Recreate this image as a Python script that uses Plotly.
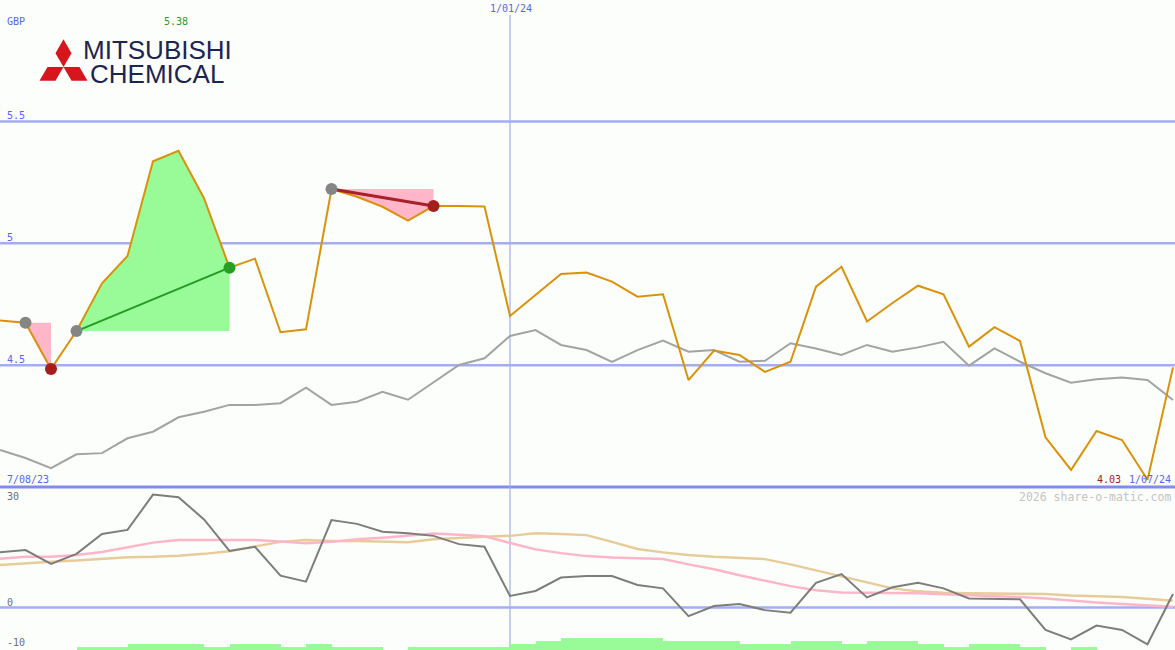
import math
import plotly.graph_objects as go

# ---------------- data ----------------
price = [4.683, 4.674, 4.484, 4.640, 4.836, 4.948, 5.337, 5.38, 5.185, 4.900,
         4.937, 4.635, 4.647, 5.223, 5.191, 5.150, 5.093, 5.153, 5.153, 5.151,
         4.702, 4.788, 4.874, 4.880, 4.843, 4.781, 4.791, 4.439, 4.560, 4.542,
         4.472, 4.514, 4.822, 4.904, 4.679, 4.755, 4.826, 4.791, 4.576, 4.656,
         4.599, 4.204, 4.070, 4.230, 4.193, 4.03, 4.491]

moving_avg = [4.152, 4.119, 4.077, 4.134, 4.139, 4.200, 4.227, 4.286, 4.309, 4.337,
              4.337, 4.344, 4.408, 4.337, 4.350, 4.391, 4.358, 4.431, 4.501, 4.528,
              4.620, 4.644, 4.583, 4.562, 4.513, 4.562, 4.601, 4.555, 4.562, 4.514,
              4.518, 4.590, 4.568, 4.542, 4.583, 4.555, 4.573, 4.596, 4.498, 4.569,
              4.514, 4.467, 4.428, 4.442, 4.449, 4.439, 4.357]

momentum = [14.7, 15.3, 11.6, 14.3, 19.6, 20.7, 30.1, 29.4, 23.5, 15.1,
            16.2, 8.5, 6.9, 23.3, 22.3, 20.2, 19.8, 19.1, 16.9, 16.2,
            3.1, 4.4, 8.0, 8.4, 8.4, 6.0, 5.1, -2.3, 0.4, 0.9,
            -0.7, -1.4, 6.6, 8.9, 2.7, 5.4, 6.6, 5.1, 2.4, 2.4,
            2.2, -6.0, -8.5, -4.8, -6.0, -9.8, 3.6]

signal_fast = [13.0, 13.5, 13.5, 14.0, 14.8, 16.0, 17.3, 18.0, 18.0, 18.0,
               18.0, 17.6, 17.1, 17.5, 18.2, 18.6, 19.2, 19.7, 19.4, 19.0,
               17.2, 15.5, 14.5, 13.7, 13.3, 13.1, 12.9, 11.5, 10.2, 8.6,
               7.2, 5.7, 4.6, 4.0, 3.9, 3.9, 3.8, 3.5, 3.3, 3.1,
               2.8, 2.4, 1.8, 1.3, 0.9, 0.5, 0.2]

signal_slow = [11.3, 11.8, 12.2, 12.5, 12.9, 13.4, 13.5, 13.8, 14.3, 15.0,
               16.3, 17.5, 18.0, 17.7, 17.7, 17.5, 17.4, 18.2, 18.6, 18.9,
               19.1, 19.8, 19.6, 19.3, 17.5, 15.6, 14.7, 14.0, 13.5, 13.1,
               12.9, 11.5, 9.9, 8.2, 6.5, 5.1, 4.3, 3.9, 3.8, 3.8,
               3.8, 3.6, 3.2, 3.0, 2.8, 2.3, 1.8]

volume_level = [0, 0, 0, 1, 1, 2, 2, 2, 1, 2, 2, 1, 2, 1, 1, 0, 1, 1, 1, 1,
                2, 3, 4, 4, 4, 4, 3, 3, 3, 2, 2, 3, 3, 2, 3, 3, 2, 1, 2, 2,
                1, 0, 1, 0, 0, 0, 0]

start_label = "7/08/23"
mid_label = "1/01/24"
end_label = "1/07/24"
mid_index = 20
currency = "GBP"
high_label = "5.38"
low_label = "4.03"
main_ticks = [5.5, 5.0, 4.5]
main_tick_text = ["5.5", "5", "4.5"]
osc_ticks = [30, 0, -10]
osc_tick_text = ["30", "0", "-10"]

# pattern segments (start index, end index)
down1 = (1, 2)
up1 = (3, 9)
down2 = (13, 17)

# ---------------- geometry ----------------
W, H = 1175, 650
n = len(price)
X_MAX = W / 25.5
SPLIT = 487  # pixel row dividing panels
Y1_MIN, Y1_MAX = 4.0, 5.5 + 121.5 / 243.7
Y2_MIN, Y2_MAX = (607.5 - 650) / 3.75, (607.5 - SPLIT) / 3.75
LEVEL_UNIT = 3.1 / 3.75

def px(p):
    return p / W

def py(p):
    return 1 - p / H

xs = list(range(n))

ORANGE = "#d9920a"
GRAY = "#a3a3a3"
DGRAY = "#7d7d7d"
PINK = "#ffb5c8"
TAN = "#e6cc98"
GRID = "#a4acf2"
GRID_DARK = "#7e8cec"
BLUE_TXT = "#5566f2"
FILL_GREEN = "#98fb98"
FILL_PINK = "#ffb6c9"

fig = go.Figure()

# volume bars
fig.add_trace(go.Bar(x=[i + 0.5 for i in xs], y=[v * LEVEL_UNIT for v in volume_level],
                     base=Y2_MIN, width=1.0, marker=dict(color=FILL_GREEN, line=dict(width=0)),
                     yaxis="y2", hoverinfo="skip", showlegend=False))

# oscillator lines
fig.add_trace(go.Scatter(x=xs, y=signal_slow, mode="lines", line=dict(color=TAN, width=2.5),
                         yaxis="y2", showlegend=False))
fig.add_trace(go.Scatter(x=xs, y=signal_fast, mode="lines", line=dict(color=PINK, width=2.5),
                         yaxis="y2", showlegend=False))
fig.add_trace(go.Scatter(x=xs, y=momentum, mode="lines", line=dict(color=DGRAY, width=2),
                         yaxis="y2", showlegend=False))

# pattern fills
def seg_poly(a, b):
    px_ = list(range(a, b + 1)) + [b]
    py_ = price[a:b + 1] + [price[a]]
    return px_, py_

for (a, b), col in [(down1, FILL_PINK), (up1, FILL_GREEN), (down2, FILL_PINK)]:
    fx, fy = seg_poly(a, b)
    fig.add_trace(go.Scatter(x=fx, y=fy, mode="lines", fill="toself", fillcolor=col,
                             line=dict(width=0, color=col), showlegend=False, hoverinfo="skip"))

# moving average and price
fig.add_trace(go.Scatter(x=xs, y=moving_avg, mode="lines", line=dict(color=GRAY, width=2),
                         showlegend=False))
fig.add_trace(go.Scatter(x=xs, y=price, mode="lines", line=dict(color=ORANGE, width=2),
                         showlegend=False))

# trend lines
fig.add_trace(go.Scatter(x=[up1[0], up1[1]], y=[price[up1[0]], price[up1[1]]], mode="lines",
                         line=dict(color="#239a23", width=2), showlegend=False))
fig.add_trace(go.Scatter(x=[down2[0], down2[1]], y=[price[down2[0]], price[down2[1]]], mode="lines",
                         line=dict(color="#a8202a", width=3), showlegend=False))

# markers
starts = [down1[0], up1[0], down2[0]]
fig.add_trace(go.Scatter(x=starts, y=[price[i] for i in starts], mode="markers",
                         marker=dict(color="#858585", size=12), showlegend=False))
reds = [down1[1], down2[1]]
fig.add_trace(go.Scatter(x=reds, y=[price[i] for i in reds], mode="markers",
                         marker=dict(color="#a51d1d", size=12), showlegend=False))
fig.add_trace(go.Scatter(x=[up1[1]], y=[price[up1[1]]], mode="markers",
                         marker=dict(color="#25a025", size=12), showlegend=False))

shapes = []
for t in main_ticks:
    shapes.append(dict(type="line", xref="paper", yref="y", x0=0, x1=1, y0=t, y1=t,
                       line=dict(color=GRID, width=2.5), layer="below"))
shapes.append(dict(type="line", xref="paper", yref="y2", x0=0, x1=1, y0=0, y1=0,
                   line=dict(color=GRID, width=2.5), layer="below"))
shapes.append(dict(type="line", xref="paper", yref="paper", x0=0, x1=1, y0=py(SPLIT), y1=py(SPLIT),
                   line=dict(color=GRID_DARK, width=3), layer="below"))
shapes.append(dict(type="line", xref="x", yref="paper", x0=mid_index, x1=mid_index, y0=0, y1=py(15),
                   line=dict(color=GRID, width=1.2), layer="below"))

# logo (diamonds)
cx, cy, s = 63.5, 67.0, 16.0
def rhombus(ang_u, ang_v):
    ux, uy = s * math.cos(math.radians(ang_u)), -s * math.sin(math.radians(ang_u))
    vx, vy = s * math.cos(math.radians(ang_v)), -s * math.sin(math.radians(ang_v))
    pts = [(cx, cy), (cx + ux, cy + uy), (cx + ux + vx, cy + uy + vy), (cx + vx, cy + vy)]
    return "M " + " L ".join(f"{px(a):.5f},{py(b):.5f}" for a, b in pts) + " Z"
for au, av in [(60, 120), (180, 240), (300, 0)]:
    shapes.append(dict(type="path", xref="paper", yref="paper", path=rhombus(au, av),
                       fillcolor="#d6161c", line=dict(width=0)))

MONO = "DejaVu Sans Mono"
ann = []
def text(t, x, y, color, size=10, anchor="left", family=MONO):
    ann.append(dict(text=t, x=px(x), y=py(y), xref="paper", yref="paper", showarrow=False,
                    xanchor=anchor, yanchor="middle", font=dict(family=family, size=size, color=color)))

text(currency, 5, 21.5, BLUE_TXT)
text(high_label, 162, 21.5, "#2a9a2a")
for t, tt in zip(main_ticks, main_tick_text):
    text(tt, 5, 121.5 + (5.5 - t) * 243.7 - 6, BLUE_TXT)
text(start_label, 5, 479, BLUE_TXT)
text(mid_label, 511, 8, BLUE_TXT, anchor="center")
text(end_label, 1173, 479, BLUE_TXT, anchor="right")
text(low_label, 1123, 479, "#a01c1c", anchor="right")
text("2026 share-o-matic.com", 1173, 496.5, "#c4c4c4", size=11.5, anchor="right")
for t, tt, yy in zip(osc_ticks, osc_tick_text, [496.5, 602, 642.5]):
    text(tt, 5, yy, "#707070")
# logo text
text("MITSUBISHI", 81, 50, "#1c2452", size=26, family="Liberation Sans")
text("CHEMICAL", 88, 73.5, "#1c2452", size=26, family="Liberation Sans")

fig.update_layout(
    width=W, height=H, autosize=False,
    margin=dict(l=0, r=0, t=0, b=0, pad=0),
    paper_bgcolor="#fcfefc", plot_bgcolor="#fcfefc",
    showlegend=False, bargap=0,
    xaxis=dict(range=[0, X_MAX], visible=False, fixedrange=True),
    yaxis=dict(domain=[py(SPLIT), 1], range=[Y1_MIN, Y1_MAX], visible=False),
    yaxis2=dict(domain=[0, py(SPLIT)], range=[Y2_MIN, Y2_MAX], visible=False, anchor="x"),
    shapes=shapes, annotations=ann,
)

fig.write_html("out.html", config={"displayModeBar": False},
               post_script="document.body.style.margin='0px';document.body.style.padding='0px';"
                           "document.documentElement.style.overflow='hidden';")
